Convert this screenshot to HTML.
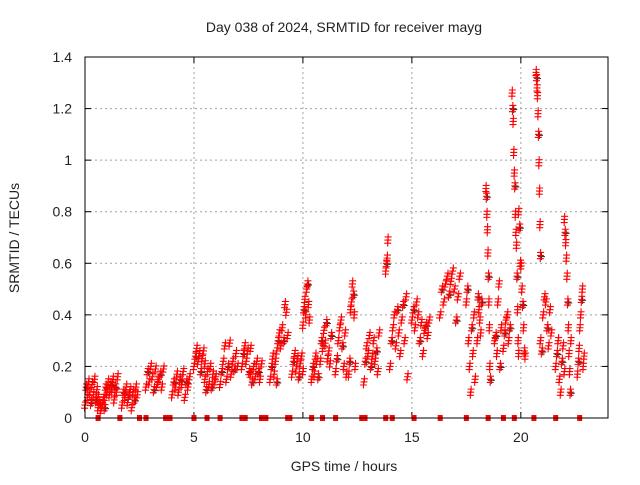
<!DOCTYPE html>
<html><head><meta charset="utf-8"><style>
html,body{margin:0;padding:0;background:#fff}
svg text{font-family:"Liberation Sans",sans-serif;fill:#222}
</style></head><body>
<svg id="chart" width="640" height="480" viewBox="0 0 640 480" xmlns="http://www.w3.org/2000/svg">
<rect width="640" height="480" fill="#fff"/>
<text x="344" y="32" font-size="14" text-anchor="middle">Day 038 of 2024, SRMTID for receiver mayg</text>
<text x="344" y="471" font-size="14" text-anchor="middle">GPS time / hours</text>
<text transform="translate(19,238) rotate(-90)" font-size="14" text-anchor="middle">SRMTID / TECUs</text>
<g id="grid"></g><g id="ticks"></g><g id="black"></g><g id="red"></g><g id="bottom"></g>
<rect x="85" y="57" width="523" height="361" fill="none" stroke="#000" stroke-width="1"/>
</svg>
<script>
const xTicks=[0,5,10,15,20];
const yTicks=[0,0.2,0.4,0.6,0.8,1,1.2,1.4];
const yTickLabels=["0","0.2","0.4","0.6","0.8","1","1.2","1.4"];
const clusterStart=[0,0.6,0.9,1.7,2.8,4.0,5.0,5.5,6.2,7.2,7.6,8.5,8.8,9.5,10.0,10.4,10.8,11.5,12.1,12.8,13.8,14.0,15.0,16.3,17.5,18.0,18.4,18.8,19.2,19.6,19.9,20.7,20.9,21.6,22.0,22.6];
const clusterEnd=[0.6,0.9,1.5,2.4,3.6,4.8,5.5,6.0,7.0,7.6,8.1,8.8,9.3,10.0,10.3,10.7,11.3,12.0,12.4,13.5,13.9,14.8,15.8,17.2,17.9,18.2,18.6,19.1,19.5,19.9,20.2,20.9,21.4,22.0,22.3,22.9];
const clusterValues=[
[0.05,0.12,0.08,0.14,0.1,0.06,0.13,0.09,0.15,0.07,0.11,0.08],
[0.04,0.06,0.03,0.05,0.07,0.04],
[0.08,0.12,0.1,0.14,0.09,0.13,0.11,0.15,0.07,0.12,0.1,0.16],
[0.05,0.1,0.08,0.12,0.06,0.09,0.11,0.04,0.1,0.07,0.12,0.09],
[0.12,0.18,0.14,0.2,0.16,0.11,0.19,0.13,0.15,0.17,0.12,0.19],
[0.09,0.14,0.12,0.17,0.1,0.15,0.13,0.18,0.08,0.14,0.12,0.16],
[0.2,0.24,0.27,0.22,0.25,0.18,0.23,0.26,0.21],
[0.15,0.11,0.18,0.13,0.2,0.12,0.17,0.14,0.16],
[0.13,0.18,0.22,0.28,0.15,0.2,0.29,0.17,0.22,0.19,0.25,0.2],
[0.2,0.25,0.28,0.22,0.26,0.18,0.27],
[0.17,0.14,0.2,0.16,0.22,0.18,0.15,0.21],
[0.15,0.2,0.24,0.17,0.22,0.14],
[0.26,0.3,0.33,0.28,0.35,0.3,0.44,0.41,0.32],
[0.17,0.22,0.25,0.19,0.23,0.16,0.21,0.24,0.18],
[0.36,0.42,0.46,0.4,0.5,0.52,0.44,0.38],
[0.15,0.2,0.17,0.24,0.22,0.16],
[0.22,0.3,0.27,0.34,0.29,0.37,0.23,0.26,0.21,0.32],
[0.18,0.23,0.3,0.35,0.38,0.28,0.2,0.33,0.17],
[0.17,0.22,0.42,0.45,0.52,0.48,0.4,0.2],
[0.14,0.22,0.28,0.25,0.32,0.2,0.24,0.3,0.22,0.26,0.18,0.33],
[0.57,0.6,0.62,0.69],
[0.2,0.3,0.35,0.4,0.28,0.42,0.33,0.25,0.38,0.44,0.3,0.47,0.16],
[0.38,0.42,0.35,0.45,0.4,0.3,0.37,0.25,0.34,0.36,0.32,0.38],
[0.4,0.5,0.45,0.52,0.55,0.48,0.53,0.57,0.5,0.38,0.47,0.55],
[0.45,0.5,0.3,0.2,0.1,0.35,0.25,0.4,0.15],
[0.3,0.47,0.42,0.38,0.33,0.45],
[0.89,0.86,0.79,0.73,0.64,0.55,0.45,0.35,0.2,0.15],
[0.3,0.32,0.25,0.45,0.52,0.2,0.35],
[0.27,0.33,0.38,0.4,0.3,0.35],
[1.26,1.2,1.15,1.03,0.95,0.9,0.79,0.72,0.67,0.55,0.42,0.3,0.25],
[0.8,0.74,0.6,0.59,0.5,0.44,0.35,0.26,0.24],
[1.34,1.32,1.28,1.25,1.18,1.1,0.99,0.88,0.75,0.63],
[0.3,0.26,0.4,0.47,0.45,0.35,0.28,0.42,0.33],
[0.2,0.25,0.3,0.15,0.1,0.22,0.28,0.18],
[0.77,0.72,0.68,0.62,0.55,0.45,0.35,0.25,0.18,0.1,0.3],
[0.17,0.22,0.27,0.35,0.4,0.46,0.5,0.2,0.24]
];
const bottomTimes=[0.6,1.6,2.5,2.8,3.7,3.9,5.0,5.6,6.2,7.2,7.35,8.1,8.3,9.3,9.4,10.4,10.9,11.5,12.7,12.85,13.8,14.1,15.1,16.3,17.5,18.5,19.2,19.7,20.6,21.6,22.7];
const NS="http://www.w3.org/2000/svg";
const X=t=>85+t*(523/24), Y=v=>418-v*(361/1.4);
function mk(tag,attrs,parent){const e=document.createElementNS(NS,tag);for(const k in attrs)e.setAttribute(k,attrs[k]);document.getElementById(parent).appendChild(e);return e;}
xTicks.forEach(t=>{
 if(t>0){const g=mk('line',{x1:X(t),x2:X(t),y1:57,y2:418,stroke:'#a0a0a0','stroke-dasharray':'2,3'},'grid');
 
 }
 const l=mk('text',{x:X(t),y:442,'font-size':14,'text-anchor':'middle'},'ticks');l.textContent=t;
 
 
 mk('line',{x1:X(t),x2:X(t),y1:418,y2:412,stroke:'#000'},'ticks');
 mk('line',{x1:X(t),x2:X(t),y1:57,y2:63,stroke:'#000'},'ticks');
});
yTicks.forEach((v,i)=>{
 if(v>0&&v<1.4){const g=mk('line',{x1:85,x2:608,y1:Y(v),y2:Y(v),stroke:'#a0a0a0','stroke-dasharray':'2,3'},'grid');
 
 }
 const l=mk('text',{x:72,y:Y(v)+5,'font-size':14,'text-anchor':'end'},'ticks');l.textContent=yTickLabels[i];
 
 
 mk('line',{x1:85,x2:91,y1:Y(v),y2:Y(v),stroke:'#000'},'ticks');
 mk('line',{x1:602,x2:608,y1:Y(v),y2:Y(v),stroke:'#000'},'ticks');
});
function plus(x,y,color,parent){return mk('path',{d:`M${x-3.5},${y}h7M${x},${y-3.5}v7`,stroke:color,'stroke-width':1.1,fill:'none'},parent);}
clusterValues.forEach((vals,c)=>{
 const s=clusterStart[c],e=clusterEnd[c],n=vals.length;
 vals.forEach((v,i)=>{
  const t=s+(e-s)*(n>1?i/(n-1):0);
  if(i%4===1){
   const b=plus(X(t)+1,Y(v)+1,'#333','black');
   
   
  }
  [[0,0],[0.4,0.012],[-0.4,-0.012]].forEach(o=>{
   const p=plus(X(t+o[0]*(e-s)/n),Y(v+o[1]),'#ff0000','red');
   
   
  });
 });
});
bottomTimes.forEach(t=>{
 const r=mk('rect',{x:X(t)-2.5,y:415,width:5,height:6,fill:'#ff0000'},'bottom');
 
 
});
</script>
</body></html>
